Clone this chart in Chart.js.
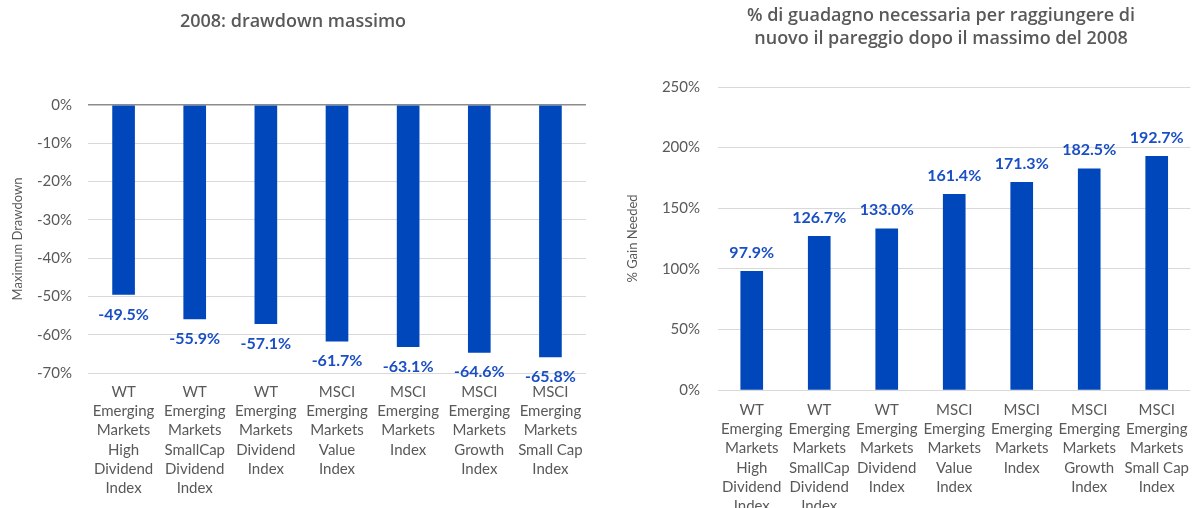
<!DOCTYPE html>
<html>
<head>
<meta charset="utf-8">
<script src="https://cdn.jsdelivr.net/npm/chart.js@4"></script>
<style>
  html, body { margin:0; padding:0; background:#fff; overflow:hidden; width:1197px; height:508px; }
  .wrap { position:absolute; top:0; height:508px; }
  #w1 { left:0; width:600px; }
  #w2 { left:600px; width:600px; }
</style>
</head>
<body>
<div class="wrap" id="w1"><canvas id="c1"></canvas></div>
<div class="wrap" id="w2"><canvas id="c2"></canvas></div>
<script>
const categories = [
  ["WT","Emerging","Markets","High","Dividend","Index"],
  ["WT","Emerging","Markets","SmallCap","Dividend","Index"],
  ["WT","Emerging","Markets","Dividend","Index"],
  ["MSCI","Emerging","Markets","Value","Index"],
  ["MSCI","Emerging","Markets","Index"],
  ["MSCI","Emerging","Markets","Growth","Index"],
  ["MSCI","Emerging","Markets","Small Cap","Index"]
];
const drawdown = [-49.5, -55.9, -57.1, -61.7, -63.1, -64.6, -65.8];
const gainNeeded = [97.9, 126.7, 133.0, 161.4, 171.3, 182.5, 192.7];
const title1 = ["2008: drawdown massimo"];
const title2 = ["% di guadagno necessaria per raggiungere di", "nuovo il pareggio dopo il massimo del 2008"];
const yTitle1 = "Maximum Drawdown";
const yTitle2 = "% Gain Needed";

const BAR = "#0047bb";
const LABEL = "#1a4fc4";
const GREY = "#595959";
const FONT = "Lato, 'Open Sans', sans-serif";
const TFONT = "'Open Sans', Lato, sans-serif";

const valueLabels = {
  id: 'valueLabels',
  afterDatasetsDraw(chart, args, opts) {
    const ctx = chart.ctx;
    const meta = chart.getDatasetMeta(0);
    ctx.save();
    ctx.font = "bold 16px " + FONT;
    ctx.fillStyle = LABEL;
    ctx.textAlign = 'center';
    ctx.textBaseline = 'middle';
    meta.data.forEach((el, i) => {
      const v = chart.data.datasets[0].data[i];
      const y = v < 0 ? el.y + opts.offset : el.y - opts.offset;
      ctx.fillText(v.toFixed(1) + '%', el.x, y);
    });
    ctx.restore();
  }
};

const titleAt = {
  id: 'titleAt',
  afterDraw(chart, args, opts) {
    const ctx = chart.ctx;
    ctx.save();
    ctx.font = "600 18px " + TFONT;
    ctx.fillStyle = GREY;
    ctx.textAlign = 'center';
    ctx.textBaseline = 'middle';
    opts.lines.forEach((t, i) => ctx.fillText(t, opts.x, opts.y + i * opts.lh));
    ctx.restore();
  }
};

function makeChart(id, data, cfg) {
  return new Chart(document.getElementById(id), {
    type: 'bar',
    data: {
      labels: categories,
      datasets: [{ data: data, backgroundColor: BAR, borderWidth: 0, barThickness: 22 }]
    },
    plugins: [valueLabels, titleAt],
    options: {
      responsive: true,
      maintainAspectRatio: false,
      animation: false,
      layout: { padding: cfg.padding },
      plugins: {
        legend: { display: false },
        tooltip: { enabled: false },
        title: { display: false },
        valueLabels: { offset: cfg.labelOffset },
        titleAt: cfg.title
      },
      scales: {
        x: {
          grid: { display: false, drawTicks: false },
          border: { display: false },
          ticks: { color: GREY, font: { family: FONT, size: 15, lineHeight: 1.27 }, padding: cfg.xPad, maxRotation: 0, autoSkip: false },
          afterFit: s => { s.height = cfg.xHeight; }
        },
        y: {
          min: cfg.min, max: cfg.max,
          ticks: { stepSize: cfg.step, color: GREY, font: { family: FONT, size: 15 }, padding: cfg.yPad, callback: v => v + '%' },
          grid: { drawTicks: false, color: ctx => (cfg.darkZero && ctx.tick && ctx.tick.value === 0) ? '#8c8c8c' : '#d9d9d9', lineWidth: ctx => (cfg.darkZero && ctx.tick && ctx.tick.value === 0) ? 1.5 : 1 },
          border: { display: false },
          title: { display: true, text: cfg.yTitle, color: GREY, font: { family: FONT, size: 13 }, padding: { top: 0, bottom: 0 } },
          afterFit: s => { s.width = cfg.yWidth; }
        }
      }
    }
  });
}

makeChart('c1', drawdown, {
  padding: { left: 10, right: 14, top: 105, bottom: 0 },
  yWidth: 78, xHeight: 135, xPad: 10,
  min: -70, max: 0, step: 10, yPad: 16, darkZero: true,
  yTitle: yTitle1, labelOffset: 20,
  title: { lines: title1, x: 293, y: 22, lh: 23 }
});

makeChart('c2', gainNeeded, {
  padding: { left: 25, right: 0, top: 87, bottom: 0 },
  yWidth: 93, xHeight: 118, xPad: 11,
  min: 0, max: 250, step: 50, yPad: 18, darkZero: false,
  yTitle: yTitle2, labelOffset: 19,
  title: { lines: title2, x: 341, y: 16, lh: 23 }
});
</script>
</body>
</html>
